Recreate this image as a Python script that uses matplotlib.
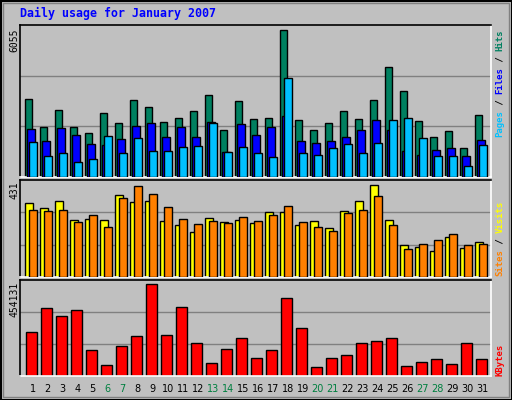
import matplotlib
matplotlib.use("Agg")
import matplotlib.pyplot as plt
import numpy as np
from matplotlib.patches import Rectangle

days = list(range(1, 32))
weekend = [6, 7, 13, 14, 20, 21, 27, 28]
hits = [3210, 2060, 2760, 2060, 1810, 2640, 2230, 3170, 2880, 2260, 2420, 2710, 3370, 1930, 3120, 2380,
        2420, 6055, 2340, 1930, 2230, 2710, 2380, 3170, 4520, 3530, 2300, 1660, 1900, 1210, 2560]
files = [1990, 1490, 2030, 1730, 1370, 1330, 1580, 2110, 2230, 1660, 2060, 1660, 2270, 1040, 2190, 1730,
         2060, 2520, 1490, 1410, 1490, 1660, 1930, 2340, 1930, 1080, 920, 1120, 1210, 880, 1530]
pages = [1450, 880, 1000, 630, 750, 1700, 1000, 1620, 1080, 1080, 1250, 1290, 2230, 1040, 1250, 1000,
         840, 4070, 1000, 920, 1210, 1370, 1000, 1410, 2350, 2440, 1620, 880, 880, 470, 1330]
sites = [347, 324, 356, 268, 272, 268, 384, 352, 356, 263, 244, 212, 277, 258, 268, 254,
         305, 305, 244, 263, 230, 308, 356, 431, 268, 151, 142, 123, 188, 137, 165]
visits = [314, 309, 314, 258, 291, 235, 370, 426, 389, 328, 272, 249, 263, 254, 282, 263,
          291, 333, 258, 235, 216, 300, 314, 380, 244, 132, 156, 174, 202, 151, 156]
kbytes = [215000, 334000, 295000, 325000, 126000, 56000, 146000, 199000, 454131, 204000, 339000, 161000,
          66000, 131000, 189000, 91000, 126000, 384000, 235000, 46000, 91000, 101000, 161000, 171000, 189000,
          51000, 71000, 86000, 61000, 161000, 86000]
title = "Daily usage for January 2007"

W, H = 512, 400
fig = plt.figure(figsize=(5.12, 4.0), dpi=100)
fig.patch.set_facecolor("#C0C0C0")
fig.patches.append(Rectangle((0.5/W, 0.5/H), 1-1/W, 1-1/H, transform=fig.transFigure, fill=False,
                             edgecolor="black", lw=1.5))
fig.patches.append(Rectangle((3/W, 3/H), 1-6/W, 1-6/H, transform=fig.transFigure, fill=False,
                             edgecolor="#808080", lw=1))

mono = "DejaVu Sans Mono"
x = np.array(days)
xl = (0.347, 0.347 + 471/15)

def mkax(top, bot):
    ax = fig.add_axes([20/W, 1-bot/H, 471/W, (bot-top)/H])
    ax.set_facecolor("#C0C0C0")
    ax.set_xlim(*xl)
    ax.set_xticks([]); ax.set_yticks([])
    for s in ["top", "left"]:
        ax.spines[s].set_color("black")
    for s in ["bottom", "right"]:
        ax.spines[s].set_color("white")
    for s in ax.spines.values():
        s.set_linewidth(1.2)
    return ax

def grid(ax, ymax):
    for f in (1/3, 2/3):
        ax.axhline(ymax*f, color="#808080", lw=1, zorder=0.5)

ek = dict(edgecolor="black", linewidth=1, align="edge")

ax1 = mkax(25, 177)
ymax1 = 6055 * 152/147.3
ax1.set_ylim(0, ymax1); grid(ax1, ymax1)
ax1.bar(x-0.3, hits, 0.47, color="#008060", zorder=2, **ek)
ax1.bar(x-0.2, files, 0.53, color="#0000FF", zorder=3, **ek)
ax1.bar(x-0.03, pages, 0.49, color="#00C0FF", zorder=4, **ek)

ax2 = mkax(180, 277)
ymax2 = 431 * 97/92.3
ax2.set_ylim(0, ymax2); grid(ax2, ymax2)
ax2.bar(x-0.3, sites, 0.53, color="#FFFF00", zorder=2, **ek)
ax2.bar(x-0.03, visits, 0.49, color="#FF8000", zorder=3, **ek)

ax3 = mkax(280, 376)
ymax3 = 454131 * 95/91.3
ax3.set_ylim(0, ymax3); grid(ax3, ymax3)
ax3.bar(x-0.23, kbytes, 0.69, color="#FF0000", zorder=2, **ek)

for d in days:
    xp = 20 + (d + 0.2 - xl[0]) * 15
    fig.text(xp/W, 1-389/H, str(d), ha="center", va="center", family="DejaVu Sans", fontsize=7,
             color="#008040" if d in weekend else "black")

fig.text(20/W, 1-13/H, title, ha="left", va="center", family=mono, fontsize=8.4,
         fontweight="bold", color="#0000FF")

for ytop, s in [(29, "6055"), (181, "431"), (282, "454131")]:
    fig.text(14/W, 1-ytop/H, s, rotation=90, ha="center", va="top", family=mono, fontsize=7, color="black")

def stack(ybot, parts, cpx=5.4):
    y = ybot
    for txt, col in parts:
        fig.text(500/W, 1-y/H, txt, rotation=90, ha="center", va="bottom", family=mono,
                 fontsize=6.5, fontweight="bold", color=col)
        y -= len(txt) * cpx

stack(137, [("Pages", "#00C0FF"), (" / ", "black"), ("Files", "#0000FF"), (" / ", "black"), ("Hits", "#008060")])
stack(276, [("Sites", "#FF8000"), (" / ", "black"), ("Visits", "#FFFF00")])
stack(376, [("KBytes", "#FF0000")])

fig.savefig("out.png", dpi=100, facecolor=fig.get_facecolor())
